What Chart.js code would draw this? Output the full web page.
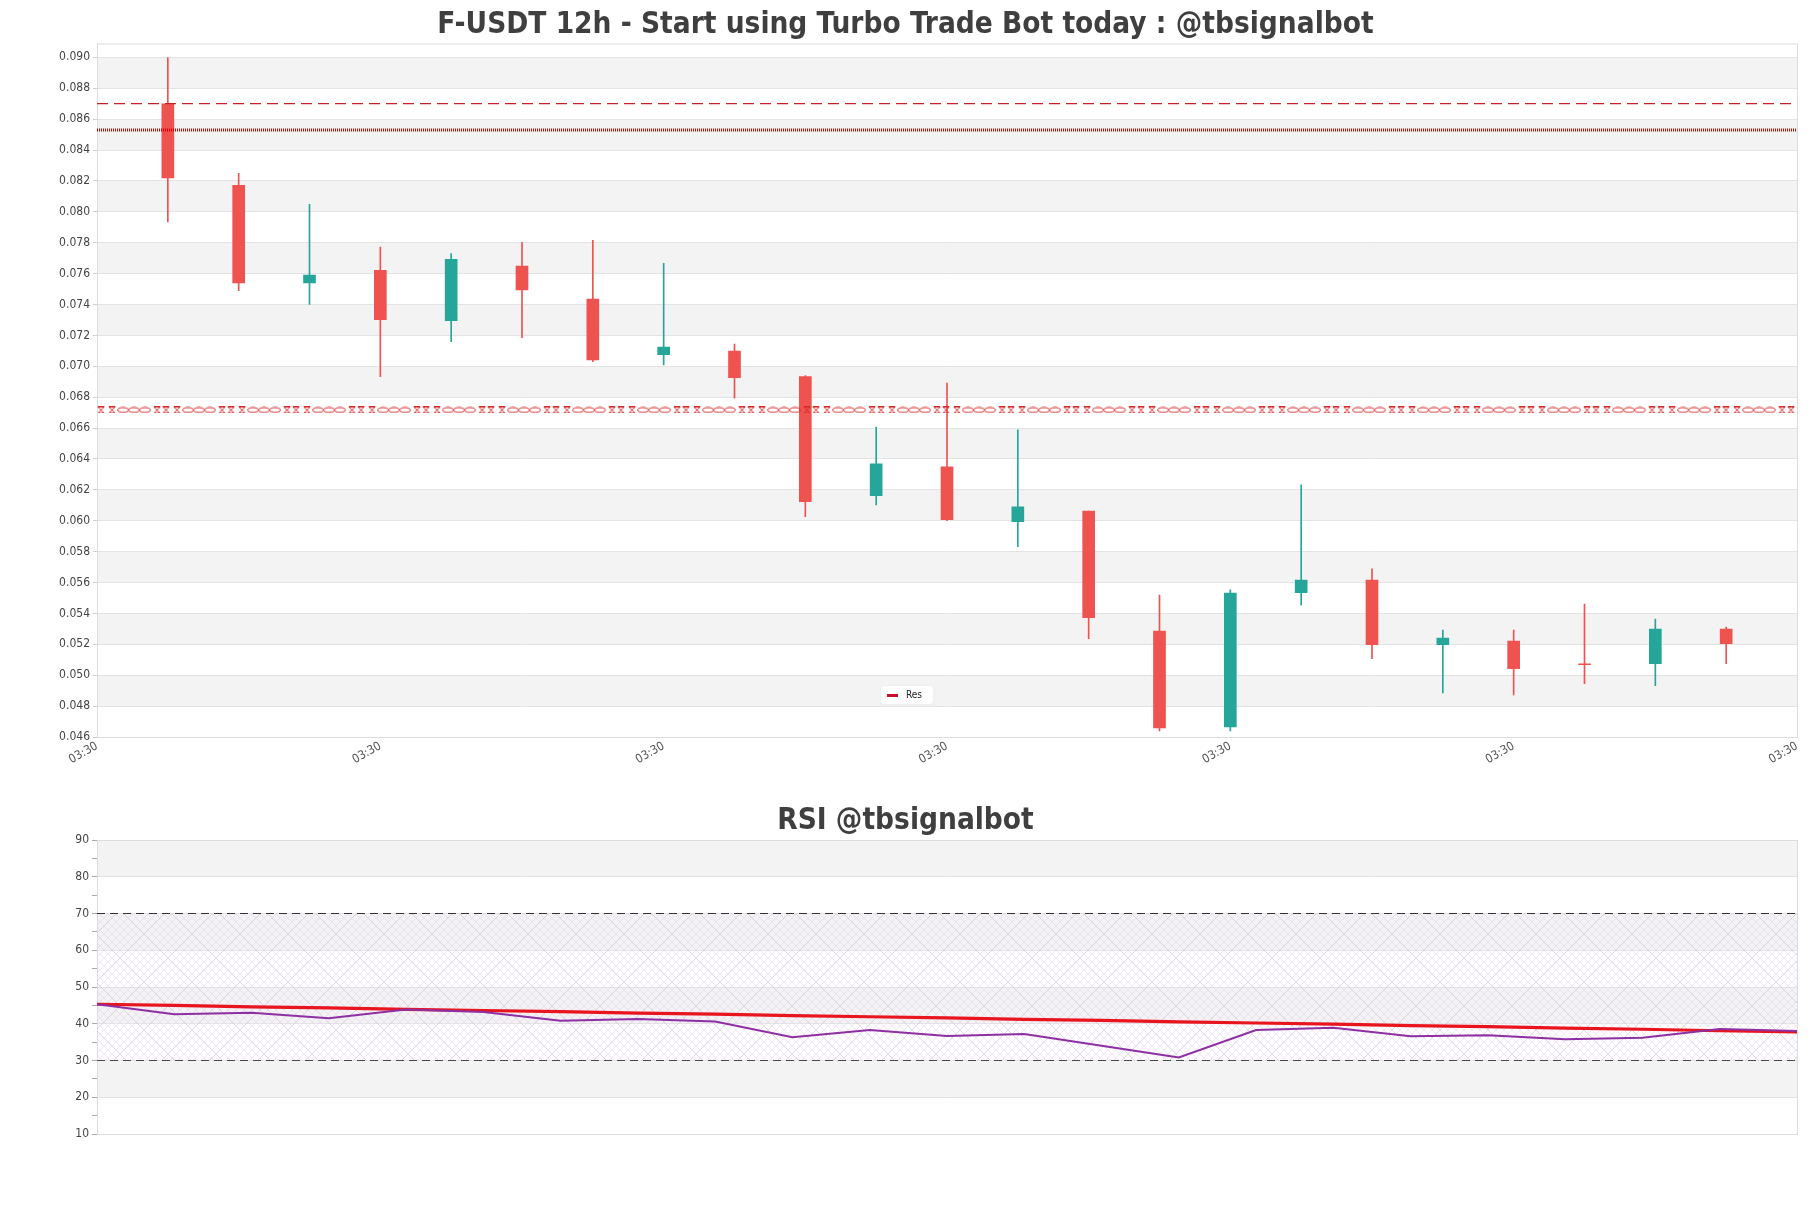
<!DOCTYPE html>
<html>
<head>
<meta charset="utf-8">
<title>F-USDT 12h</title>
<script src="https://cdn.jsdelivr.net/npm/chart.js@4.4.1/dist/chart.umd.min.js"></script>
<style>
  html, body { margin: 0; padding: 0; background: #fff; overflow: hidden; }
  #wrap { position: relative; width: 1811px; height: 1208px; }
  #priceBox { position: absolute; left: 0; top: 0; width: 1811px; height: 780px; }
  #rsiBox { position: absolute; left: 0; top: 790px; width: 1811px; height: 418px; }
  #resLegend {
    position: absolute; left: 881px; top: 686px; width: 52px; height: 18px;
    background: #fff; border-radius: 2px; box-shadow: 0 0 1px rgba(0,0,0,0.15);
    font: 10px 'DejaVu Sans Condensed', 'DejaVu Sans', sans-serif; color: #222;
  }
  #resLegend span.sw { position: absolute; left: 6px; top: 8px; width: 11px; height: 3px; background: #c8102e; }
  #resLegend span.tx { position: absolute; left: 25px; top: 3px; }
</style>
</head>
<body>
<div id="wrap">
  <div id="priceBox"><canvas id="priceChart"></canvas></div>
  <div id="resLegend"><span class="sw"></span><span class="tx">Res</span></div>
  <div id="rsiBox"><canvas id="rsiChart"></canvas></div>
</div>
<script>
// x-axis labels (one every 4 candles)
const tickLabels = ['03:30', '03:30', '03:30', '03:30', '03:30', '03:30', '03:30'];

// 12h candles
const opens  = [0.08699, 0.08171, 0.07540, 0.07622, 0.07295, 0.07648, 0.07435, 0.07075, 0.07099, 0.06933, 0.06163, 0.06349,
                0.05994, 0.06063, 0.05286, 0.04666, 0.05534, 0.05616, 0.05197, 0.05221, 0.05072, 0.05074, 0.05299];
const highs  = [0.08999, 0.08249, 0.08048, 0.07771, 0.07730, 0.07803, 0.07816, 0.07667, 0.07144, 0.06940, 0.06606, 0.06891,
                0.06588, 0.06063, 0.05519, 0.05552, 0.06232, 0.05688, 0.05292, 0.05292, 0.05461, 0.05364, 0.05312];
const lows   = [0.07934, 0.07489, 0.07400, 0.06933, 0.07159, 0.07185, 0.07030, 0.07009, 0.06793, 0.06027, 0.06102, 0.06000,
                0.05832, 0.05236, 0.04640, 0.04640, 0.05454, 0.05107, 0.04886, 0.04873, 0.04945, 0.04932, 0.05074];
const closes = [0.08219, 0.07540, 0.07590, 0.07301, 0.07693, 0.07495, 0.07041, 0.07125, 0.06927, 0.06124, 0.06368, 0.06007,
                0.06090, 0.05372, 0.04659, 0.05532, 0.05616, 0.05197, 0.05240, 0.05042, 0.05068, 0.05299, 0.05204];

// horizontal levels
const levelDashed = 0.0870;
const levelRes = 0.0853;
const levelChain = 0.0672;
const priceMin = 0.046;
const priceMax = 0.0909;

// RSI panel
const rsiValues = [45.3, 42.6, 43.0, 41.5, 43.9, 43.2, 40.8, 41.3, 40.6, 36.3, 38.3, 36.7,
                   37.2, 34.0, 30.8, 38.3, 38.9, 36.6, 36.9, 35.8, 36.2, 38.6, 38.0];
const rsiMa     = [45.3, 45.0, 44.6, 44.3, 43.9, 43.6, 43.3, 42.9, 42.6, 42.2, 41.9, 41.6,
                   41.2, 40.9, 40.5, 40.2, 39.9, 39.5, 39.2, 38.8, 38.5, 38.1, 37.8];
const rsiUpper = 70;
const rsiLower = 30;

const UP = '#26a69a';
const DOWN = '#ef5350';
const FONT = "'DejaVu Sans Condensed', 'DejaVu Sans', sans-serif";

Chart.defaults.font.family = FONT;
Chart.defaults.color = '#555';

// alternating grey bands between major ticks
const bandsPlugin = {
    id: 'bands',
    beforeDraw(chart, args, opts) {
        const { ctx, chartArea: a } = chart;
        const y = chart.scales.y;
        const vals = y.ticks.map(t => t.value).filter(v => Math.abs(v / opts.every - Math.round(v / opts.every)) < 1e-6);
        ctx.save();
        ctx.fillStyle = '#f3f3f3';
        for (let i = 1; i < vals.length - 1; i += 2) {
            const y1 = y.getPixelForValue(vals[i]);
            const y2 = y.getPixelForValue(vals[i + 1]);
            ctx.fillRect(a.left, y2, a.right - a.left, y1 - y2);
        }
        ctx.restore();
    }
};

// light frame round the plot area
const framePlugin = {
    id: 'frame',
    beforeDatasetsDraw(chart) {
        const { ctx, chartArea: a } = chart;
        ctx.save();
        ctx.strokeStyle = '#dcdcdc';
        ctx.lineWidth = 1;
        ctx.strokeRect(a.left + 0.5, a.top + 0.5, a.right - a.left, a.bottom - a.top);
        ctx.restore();
    }
};

// chain-like pattern for the lower level line
function makeChainPattern() {
    const c = document.createElement('canvas');
    c.width = 65; c.height = 7;
    const g = c.getContext('2d');
    g.strokeStyle = '#d42a2a';
    g.lineWidth = 1;
    const tie = cx => {
        g.beginPath();
        g.moveTo(cx - 3, 0.5); g.lineTo(cx + 3, 0.5); g.lineTo(cx - 3, 6.5); g.lineTo(cx + 3, 6.5); g.closePath();
        g.stroke();
    };
    tie(4); tie(15); tie(60);
    [26, 37, 48].forEach(cx => {
        g.beginPath();
        g.ellipse(cx, 3.5, 5.5, 2.4, 0, 0, Math.PI * 2);
        g.stroke();
    });
    return g.createPattern(c, 'repeat');
}
const chainPattern = makeChainPattern();

const chainAlignPlugin = {
    id: 'chainAlign',
    beforeDatasetsDraw(chart) {
        const y = chart.scales.y.getPixelForValue(levelChain);
        chainPattern.setTransform(new DOMMatrix().translate(chart.chartArea.left, Math.round(y) - 3.5));
    }
};

// cross-hatch for the 30-70 RSI zone
function makeHatch() {
    const c = document.createElement('canvas');
    c.width = 48; c.height = 48;
    const g = c.getContext('2d');
    g.fillStyle = 'rgba(248,240,250,0.2)';
    g.fillRect(0, 0, 48, 48);
    g.strokeStyle = 'rgba(185,170,200,0.3)';
    g.lineWidth = 0.8;
    for (let k = -48; k <= 96; k += 8) {
        g.beginPath(); g.moveTo(k, 0); g.lineTo(k + 48, 48); g.stroke();
        g.beginPath(); g.moveTo(k, 48); g.lineTo(k + 48, 0); g.stroke();
    }
    g.strokeStyle = 'rgba(170,170,175,0.3)';
    g.beginPath(); g.moveTo(0, 0); g.lineTo(48, 48); g.stroke();
    g.beginPath(); g.moveTo(0, 48); g.lineTo(48, 0); g.stroke();
    return g.createPattern(c, 'repeat');
}

// empty right-hand axis that keeps the plot 14px off the edge
// while the titles stay centred on the whole figure
const rightSpacer = {
    position: 'right',
    display: true,
    grid: { display: false },
    border: { display: false },
    ticks: { display: false },
    afterFit: scale => { scale.width = 14; }
};

// ---------- price chart ----------
const nCandles = opens.length;
const bodyData = opens.map((o, i) => ({ x: i + 1, y: [o, closes[i]] }));
const wickData = opens.map((o, i) => ({ x: i + 1, y: [lows[i], highs[i]] }));
const candleColors = opens.map((o, i) => closes[i] >= o ? UP : DOWN);
const xMax = nCandles + 1;

const levelLine = v => [{ x: 0, y: v }, { x: xMax, y: v }];

const priceCtx = document.getElementById('priceChart').getContext('2d');
const priceChart = new Chart(priceCtx, {
    type: 'bar',
    data: {
        datasets: [
            { type: 'line', label: 'Res', data: levelLine(levelRes), borderColor: '#d40000', borderWidth: 3,
              borderDash: [1, 1], pointRadius: 0, order: 1 },
            { type: 'line', label: 'Level', data: levelLine(levelDashed), borderColor: '#c8202a', borderWidth: 1.3,
              borderDash: [11, 6], pointRadius: 0, order: 2 },
            { type: 'line', label: 'Support', data: levelLine(levelChain), borderColor: chainPattern, borderWidth: 7,
              pointRadius: 0, order: 3 },
            { label: 'Body', data: bodyData, backgroundColor: candleColors, barThickness: 12,
              minBarLength: 1, grouped: false, order: 4 },
            { label: 'Wick', data: wickData, backgroundColor: candleColors, barThickness: 1,
              grouped: false, order: 5 }
        ]
    },
    options: {
        responsive: true,
        maintainAspectRatio: false,
        animation: false,
        layout: { padding: 0 },
        scales: {
            x: {
                type: 'linear',
                min: 0,
                max: xMax,
                offset: false,
                grid: { display: false, offset: false },
                border: { display: true, color: '#dcdcdc' },
                ticks: {
                    stepSize: 4,
                    maxRotation: 30,
                    minRotation: 30,
                    autoSkip: false,
                    padding: -6,
                    font: { size: 12 },
                    color: '#555',
                    callback: (value, index) => tickLabels[index]
                },
                afterFit: scale => { scale.height = 43; }
            },
            y: {
                min: priceMin,
                max: priceMax,
                bounds: 'data',
                grid: { color: '#e3e3e3', tickLength: 4, tickColor: '#cfcfcf' },
                border: { color: '#dcdcdc' },
                ticks: {
                    stepSize: 0.002,
                    includeBounds: false,
                    autoSkip: false,
                    font: { size: 12 },
                    color: '#444',
                    callback: v => v.toFixed(3)
                },
                afterFit: scale => { scale.width = 97; }
            },
            yRight: rightSpacer
        },
        plugins: {
            legend: { display: false },
            tooltip: { enabled: false },
            title: {
                display: true,
                text: 'F-USDT 12h - Start using Turbo Trade Bot today : @tbsignalbot',
                color: '#3f3f3f',
                font: { size: 29.5, weight: 'bold', lineHeight: 1.1 },
                padding: { top: 8.8, bottom: 2.2 }
            },
            bands: { every: 0.002 }
        }
    },
    plugins: [bandsPlugin, framePlugin, chainAlignPlugin]
});

// ---------- RSI chart ----------
const rsiLast = rsiValues.length - 1;
const rsiData = rsiValues.map((v, i) => ({ x: i, y: v }));
const rsiMaData = rsiMa.map((v, i) => ({ x: i, y: v }));
const hLine = v => [{ x: 0, y: v }, { x: rsiLast, y: v }];

const rsiCtx = document.getElementById('rsiChart').getContext('2d');
const rsiChart = new Chart(rsiCtx, {
    type: 'line',
    data: {
        datasets: [
            { label: 'RSI', data: rsiData, borderColor: '#8e2fa3', borderWidth: 2, pointRadius: 0, order: 1 },
            { label: 'RSI MA', data: rsiMaData, borderColor: '#e8141e', borderWidth: 3.2, pointRadius: 0, order: 2 },
            { label: 'Upper', data: hLine(rsiUpper), borderColor: '#333', borderWidth: 1.2, borderDash: [8, 5],
              pointRadius: 0, fill: '+1', backgroundColor: makeHatch(), order: 3 },
            { label: 'Lower', data: hLine(rsiLower), borderColor: '#333', borderWidth: 1.2, borderDash: [8, 5],
              pointRadius: 0, order: 4 }
        ]
    },
    options: {
        responsive: true,
        maintainAspectRatio: false,
        animation: false,
        layout: { padding: { left: 0, right: 0, top: 0, bottom: 74 } },
        scales: {
            x: {
                type: 'linear',
                min: 0,
                max: rsiLast,
                grid: { display: false },
                border: { display: true, color: '#dcdcdc' },
                ticks: { display: false },
                afterFit: scale => { scale.height = 0; }
            },
            y: {
                min: 10,
                max: 90,
                grid: {
                    color: ctx => ctx.tick && ctx.tick.value % 10 === 0 ? '#e3e3e3' : 'rgba(0,0,0,0)',
                    tickLength: 5,
                    tickColor: '#aaa'
                },
                border: { color: '#dcdcdc' },
                ticks: {
                    stepSize: 5,
                    autoSkip: false,
                    font: { size: 12 },
                    color: '#444',
                    callback: v => (v % 10 === 0 ? String(v) : '')
                },
                afterFit: scale => { scale.width = 97; }
            },
            yRight: rightSpacer
        },
        plugins: {
            legend: { display: false },
            tooltip: { enabled: false },
            title: {
                display: true,
                text: 'RSI @tbsignalbot',
                color: '#3f3f3f',
                font: { size: 29.5, weight: 'bold', lineHeight: 1.1 },
                padding: { top: 14.8, bottom: 2.75 }
            },
            bands: { every: 10 }
        }
    },
    plugins: [bandsPlugin, framePlugin]
});
</script>
</body>
</html>
